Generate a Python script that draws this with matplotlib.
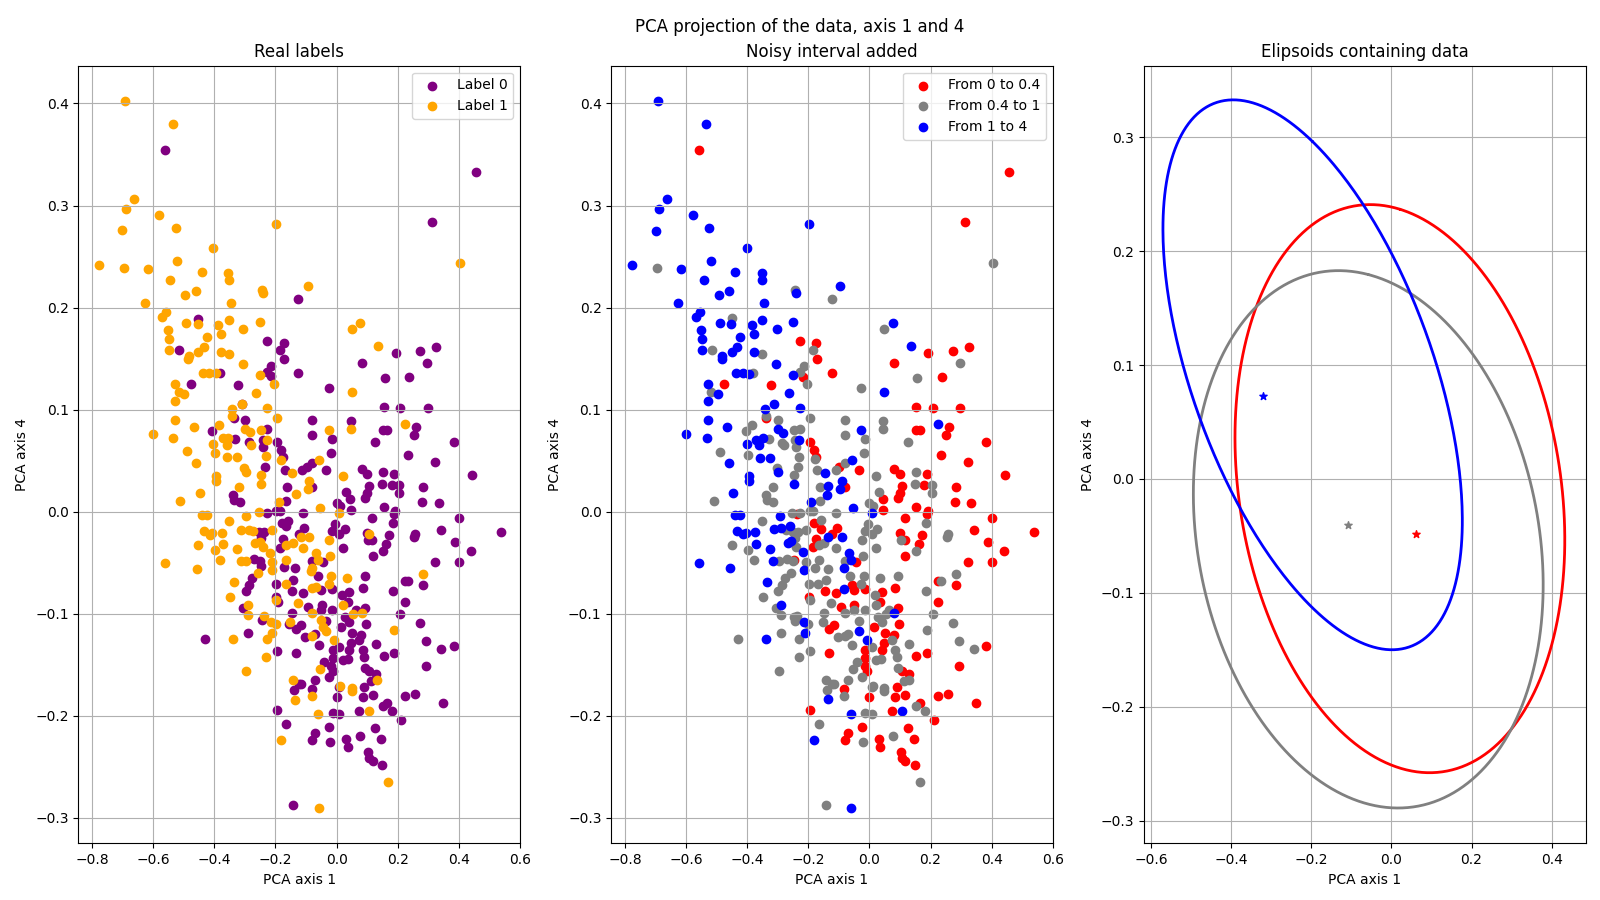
import numpy as np
import matplotlib
matplotlib.use("Agg")
import matplotlib.pyplot as plt

# ---- panel 1: points by real label (x = PCA axis 1, y = PCA axis 4)
label0_pts = [
    (-0.560, 0.354), (-0.125, 0.208), (-0.452, 0.189), (0.456, 0.333), (0.314, 0.284),
    (-0.227, 0.167), (-0.171, 0.165), (-0.184, 0.158), (-0.173, 0.150), (-0.517, 0.158),
    (-0.215, 0.143), (-0.229, 0.137), (-0.215, 0.133), (-0.125, 0.136), (-0.382, 0.136),
    (-0.478, 0.125), (-0.321, 0.124), (-0.309, 0.105), (-0.337, 0.092), (-0.301, 0.090),
    (-0.227, 0.081), (-0.407, 0.079), (-0.334, 0.071), (-0.286, 0.068), (-0.242, 0.070),
    (-0.240, 0.063), (-0.195, 0.068), (-0.183, 0.060), (-0.175, 0.054), (-0.234, 0.044),
    (-0.168, 0.041), (-0.163, 0.024), (-0.339, 0.016), (-0.336, 0.011), (-0.316, 0.009),
    (-0.164, 0.010), (-0.227, -0.001), (-0.197, 0.001), (-0.184, 0.001), (-0.180, -0.011),
    (-0.159, -0.009), (-0.167, -0.014), (-0.253, -0.020), (-0.237, -0.020), (-0.246, -0.026),
    (-0.174, -0.027), (-0.185, -0.036), (-0.271, -0.046), (-0.251, -0.048), (-0.246, -0.053),
    (-0.173, -0.054), (-0.137, -0.055),
    (0.193, 0.155), (0.272, 0.157), (0.325, 0.161), (0.295, 0.146), (0.082, 0.146),
    (0.157, 0.131), (0.236, 0.132), (-0.026, 0.121), (0.154, 0.103), (0.207, 0.102),
    (0.298, 0.102), (-0.079, 0.090), (0.046, 0.089), (0.259, 0.083), (0.252, 0.075),
    (0.151, 0.080), (0.164, 0.080), (-0.079, 0.075), (-0.015, 0.071), (0.126, 0.068),
    (0.383, 0.068), (-0.018, 0.057), (0.233, 0.056), (-0.079, 0.048), (-0.098, 0.044),
    (-0.114, 0.041), (-0.033, 0.041), (0.323, 0.049), (0.082, 0.042), (0.099, 0.037),
    (0.151, 0.039), (0.187, 0.037), (0.443, 0.036), (-0.079, 0.024), (0.148, 0.027),
    (0.180, 0.026), (0.205, 0.026), (0.205, 0.018), (0.105, 0.025), (0.099, 0.018),
    (0.094, 0.013), (0.031, 0.019), (0.045, 0.012), (0.284, 0.024), (0.279, 0.009),
    (0.334, 0.008), (0.000, 0.008), (0.011, 0.006), (0.046, 0.002), (0.154, 0.005),
    (0.192, 0.001), (-0.111, -0.001), (0.115, -0.006), (0.187, -0.002), (0.186, -0.011),
    (0.400, -0.006), (-0.106, -0.016), (-0.122, -0.022), (-0.004, -0.012), (-0.016, -0.019),
    (0.026, -0.017), (0.007, -0.022), (0.099, -0.021), (0.103, -0.028), (0.116, -0.028),
    (0.173, -0.023), (0.258, -0.022), (0.255, -0.025), (0.341, -0.018), (0.538, -0.020),
    (0.020, -0.036), (0.161, -0.032), (0.152, -0.039), (0.389, -0.030), (0.439, -0.039),
    (-0.079, -0.048), (-0.044, -0.049), (0.118, -0.043), (0.323, -0.049), (0.400, -0.049),
    (-0.276, -0.065), (-0.287, -0.072), (-0.297, -0.078), (-0.197, -0.071), (-0.142, -0.067),
    (-0.146, -0.078), (-0.197, -0.084), (-0.191, -0.089), (-0.305, -0.094), (-0.245, -0.106),
    (-0.147, -0.099), (-0.157, -0.110), (-0.132, -0.115), (-0.289, -0.119), (-0.430, -0.125),
    (-0.195, -0.137), (-0.134, -0.139), (-0.139, -0.175), (-0.123, -0.169), (-0.195, -0.194),
    (-0.164, -0.208), (-0.142, -0.287),
    (-0.062, -0.063), (0.092, -0.063), (0.225, -0.068), (0.235, -0.068), (0.282, -0.072),
    (0.085, -0.075), (-0.109, -0.080), (-0.051, -0.077), (-0.015, -0.076), (0.042, -0.079),
    (0.184, -0.078), (0.017, -0.082), (0.225, -0.089), (-0.049, -0.091), (-0.092, -0.093),
    (-0.051, -0.096), (-0.016, -0.096), (0.036, -0.089), (0.063, -0.096), (0.093, -0.094),
    (0.208, -0.100), (-0.035, -0.107), (0.028, -0.103), (0.041, -0.108), (0.096, -0.110),
    (0.272, -0.109), (-0.117, -0.111), (0.014, -0.113), (0.052, -0.119), (0.080, -0.121),
    (-0.103, -0.123), (-0.071, -0.120), (0.074, -0.126), (0.047, -0.129), (0.129, -0.130),
    (-0.057, -0.131), (0.009, -0.133), (0.294, -0.127), (0.341, -0.135), (0.383, -0.132),
    (-0.013, -0.136), (0.041, -0.136), (0.085, -0.136), (0.154, -0.141), (0.187, -0.139),
    (0.091, -0.142), (-0.040, -0.147), (-0.013, -0.143), (0.020, -0.145), (0.039, -0.144),
    (0.294, -0.151), (-0.018, -0.151), (-0.013, -0.156), (0.093, -0.153), (0.107, -0.156),
    (0.129, -0.159), (0.113, -0.166), (-0.024, -0.162), (-0.070, -0.165), (-0.117, -0.169),
    (0.089, -0.172), (0.007, -0.172), (-0.082, -0.174), (0.000, -0.182), (0.085, -0.182),
    (0.118, -0.180), (0.225, -0.181), (0.258, -0.179), (0.348, -0.188), (0.164, -0.188),
    (0.151, -0.190), (0.182, -0.195), (0.210, -0.204), (0.074, -0.195), (-0.013, -0.197),
    (0.007, -0.198), (0.125, -0.212), (-0.024, -0.211), (-0.070, -0.217), (-0.079, -0.224),
    (-0.020, -0.226), (0.031, -0.223), (0.036, -0.231), (0.078, -0.220), (0.146, -0.223),
    (0.102, -0.236), (0.107, -0.241), (0.118, -0.244), (0.148, -0.248),
]

label1_pts = [
    (-0.693, 0.402), (-0.537, 0.380), (-0.664, 0.306), (-0.690, 0.297), (-0.580, 0.291),
    (-0.701, 0.276), (-0.524, 0.278), (-0.198, 0.282), (-0.404, 0.258), (-0.778, 0.242),
    (-0.697, 0.239), (-0.618, 0.238), (-0.521, 0.246), (-0.442, 0.235), (-0.545, 0.227),
    (-0.354, 0.234), (-0.351, 0.227), (-0.495, 0.212), (-0.459, 0.216), (-0.243, 0.217),
    (-0.240, 0.214), (-0.628, 0.204), (-0.345, 0.204), (-0.558, 0.196), (-0.570, 0.191),
    (-0.492, 0.185), (-0.455, 0.184), (-0.387, 0.183), (-0.351, 0.188), (-0.250, 0.186),
    (-0.305, 0.179), (-0.551, 0.178), (-0.095, 0.221), (0.403, 0.244), (0.078, 0.185),
    (0.049, 0.179),
    (-0.547, 0.169), (-0.423, 0.171), (-0.379, 0.174), (-0.547, 0.158), (-0.482, 0.153),
    (-0.485, 0.150), (-0.452, 0.156), (-0.434, 0.161), (-0.379, 0.156), (-0.353, 0.154),
    (-0.305, 0.145), (-0.438, 0.136), (-0.416, 0.136), (-0.396, 0.136), (-0.250, 0.134),
    (-0.204, 0.125), (-0.530, 0.125), (-0.517, 0.117), (-0.498, 0.115), (-0.263, 0.116),
    (-0.530, 0.108), (-0.311, 0.105), (-0.342, 0.101), (-0.342, 0.094), (-0.227, 0.102),
    (-0.195, 0.092), (-0.530, 0.090), (-0.468, 0.083), (-0.384, 0.085), (-0.300, 0.081),
    (-0.283, 0.078), (-0.248, 0.080), (-0.602, 0.076), (-0.534, 0.072), (-0.371, 0.072),
    (-0.354, 0.072), (-0.360, 0.065), (-0.403, 0.066), (-0.229, 0.070), (-0.280, 0.065),
    (-0.182, 0.051), (-0.489, 0.059), (-0.398, 0.057), (-0.359, 0.054), (-0.325, 0.054),
    (-0.230, 0.055), (-0.459, 0.048), (-0.303, 0.043), (-0.298, 0.039), (-0.146, 0.038),
    (-0.395, 0.035), (-0.395, 0.030), (-0.247, 0.036), (-0.247, 0.027), (-0.318, 0.024),
    (-0.446, 0.018), (-0.134, 0.017), (-0.512, 0.010), (-0.190, 0.009), (-0.441, -0.003),
    (-0.424, -0.003), (-0.255, 0.000), (-0.295, -0.004), (-0.353, -0.009), (-0.434, -0.019),
    (-0.415, -0.023), (-0.408, -0.021), (-0.374, -0.021), (-0.313, -0.018), (-0.288, -0.018),
    (-0.273, -0.019), (-0.210, -0.018), (-0.268, -0.031), (-0.251, -0.030), (-0.240, -0.035),
    (-0.165, -0.033), (-0.142, -0.031), (-0.115, -0.025), (-0.452, -0.033), (-0.371, -0.032),
    (-0.398, -0.038), (-0.325, -0.037), (-0.218, -0.041), (-0.561, -0.050), (-0.382, -0.047),
    (-0.314, -0.048), (-0.298, -0.048), (-0.210, -0.049), (-0.210, -0.057), (-0.164, -0.047),
    (-0.458, -0.056),
    (0.137, 0.162), (0.049, 0.117), (0.046, 0.081), (-0.026, 0.080), (0.223, 0.086),
    (-0.056, 0.051), (0.020, 0.035), (-0.090, 0.030), (-0.095, 0.022), (-0.054, 0.004),
    (0.009, -0.001), (0.105, -0.022), (-0.089, -0.025), (-0.024, -0.028), (-0.109, -0.036),
    (-0.066, -0.041), (-0.060, -0.047), (-0.021, -0.043), (-0.082, -0.055),
    (-0.257, -0.060), (-0.335, -0.069), (-0.167, -0.071), (-0.348, -0.084), (-0.197, -0.087),
    (-0.126, -0.090), (-0.289, -0.091), (-0.289, -0.101), (-0.237, -0.102), (-0.213, -0.108),
    (-0.199, -0.110), (-0.151, -0.108), (-0.211, -0.119), (-0.229, -0.125), (-0.339, -0.125),
    (-0.230, -0.142), (-0.297, -0.156), (-0.142, -0.165), (-0.137, -0.185), (-0.182, -0.224),
    (-0.083, -0.058), (-0.019, -0.063), (0.033, -0.065), (0.282, -0.061), (-0.026, -0.071),
    (-0.079, -0.075), (-0.068, -0.074), (0.020, -0.091), (-0.079, -0.099), (0.055, -0.100),
    (0.082, -0.099), (-0.051, -0.106), (-0.046, -0.113), (-0.033, -0.117), (0.187, -0.116),
    (-0.079, -0.122), (-0.008, -0.126), (-0.054, -0.154), (0.131, -0.165), (0.012, -0.171),
    (0.049, -0.173), (0.049, -0.176), (-0.082, -0.181), (0.107, -0.195), (-0.061, -0.198),
    (0.167, -0.265), (-0.059, -0.290),
]

# ---- panel 2: points by noisy interval
low_pts = [  # from 0 to 0.4
    (-0.559, 0.354), (0.456, 0.333), (0.314, 0.284),
    (-0.227, 0.167), (-0.174, 0.165), (-0.171, 0.150), (-0.216, 0.132), (-0.124, 0.136),
    (-0.477, 0.125), (-0.321, 0.124), (-0.339, 0.092), (-0.193, 0.068), (-0.183, 0.060),
    (-0.175, 0.054), (-0.236, -0.002), (-0.180, -0.011), (-0.159, -0.017), (-0.175, -0.027),
    (-0.185, -0.035), (-0.246, -0.047),
    (0.193, 0.155), (0.272, 0.157), (0.325, 0.161), (0.082, 0.146), (0.236, 0.132),
    (0.154, 0.103), (0.207, 0.102), (0.298, 0.102), (0.259, 0.083), (0.252, 0.075),
    (0.151, 0.080), (0.164, 0.080), (0.383, 0.068), (0.233, 0.056), (-0.098, 0.044),
    (-0.033, 0.041), (0.323, 0.049), (0.082, 0.042), (0.099, 0.037), (0.187, 0.037),
    (0.443, 0.036), (-0.079, 0.024), (0.180, 0.026), (0.105, 0.025), (0.099, 0.018),
    (0.094, 0.013), (0.045, 0.012), (0.284, 0.024), (0.279, 0.009), (0.334, 0.008),
    (0.046, 0.002), (0.154, 0.005), (0.192, 0.001), (0.115, -0.006), (0.187, -0.002),
    (0.400, -0.006), (-0.106, -0.016), (-0.122, -0.022), (0.099, -0.021), (0.116, -0.028),
    (0.173, -0.023), (0.341, -0.018), (0.538, -0.020), (0.161, -0.032), (0.389, -0.030),
    (0.439, -0.039), (-0.044, -0.049), (0.115, -0.043), (0.323, -0.049), (0.400, -0.049),
    (-0.145, -0.078), (-0.197, -0.084), (-0.132, -0.115), (-0.132, -0.139), (-0.195, -0.194),
    (-0.057, -0.072), (0.225, -0.068), (0.282, -0.072), (0.085, -0.075), (-0.109, -0.080),
    (-0.051, -0.077), (-0.015, -0.076), (0.042, -0.079), (0.225, -0.089), (-0.049, -0.091),
    (-0.092, -0.093), (0.036, -0.089), (0.093, -0.094), (0.096, -0.110), (-0.117, -0.111),
    (0.014, -0.113), (0.052, -0.119), (0.080, -0.121), (0.047, -0.129), (0.383, -0.132),
    (-0.013, -0.136), (0.041, -0.136), (0.154, -0.141), (0.187, -0.139), (-0.013, -0.143),
    (0.294, -0.151), (-0.013, -0.151), (-0.008, -0.156), (0.107, -0.156), (0.129, -0.159),
    (0.089, -0.172), (-0.082, -0.174), (0.000, -0.182), (0.085, -0.182), (0.118, -0.180),
    (0.225, -0.181), (0.258, -0.179), (0.348, -0.188), (0.164, -0.188), (0.210, -0.204),
    (0.074, -0.195), (0.125, -0.212), (-0.024, -0.211), (-0.070, -0.217), (-0.079, -0.224),
    (0.031, -0.223), (0.036, -0.231), (0.146, -0.223), (0.102, -0.236), (0.107, -0.241),
    (0.118, -0.244), (0.148, -0.248),
]

mid_pts = [  # from 0.4 to 1
    (-0.696, 0.239), (-0.243, 0.217), (-0.124, 0.208), (-0.451, 0.190), (0.403, 0.244),
    (0.049, 0.179),
    (-0.184, 0.158), (-0.516, 0.158), (-0.353, 0.154), (-0.215, 0.143), (-0.228, 0.137),
    (-0.382, 0.136), (-0.203, 0.125), (-0.517, 0.117), (-0.339, 0.094), (-0.195, 0.092),
    (-0.298, 0.090), (-0.383, 0.085), (-0.226, 0.081), (-0.247, 0.080), (-0.405, 0.079),
    (-0.329, 0.071), (-0.286, 0.067), (-0.279, 0.065), (-0.242, 0.070), (-0.239, 0.063),
    (-0.178, 0.052), (-0.488, 0.058), (-0.397, 0.056), (-0.229, 0.054), (-0.233, 0.044),
    (-0.303, 0.043), (-0.170, 0.041), (-0.246, 0.036), (-0.317, 0.024), (-0.161, 0.024),
    (-0.338, 0.016), (-0.336, 0.011), (-0.314, 0.009), (-0.163, 0.010), (-0.510, 0.010),
    (-0.255, -0.001), (-0.226, -0.001), (-0.193, 0.001), (-0.185, 0.001), (-0.353, -0.009),
    (-0.157, -0.008), (-0.273, -0.018), (-0.209, -0.018), (-0.251, -0.020), (-0.235, -0.020),
    (-0.243, -0.026), (-0.240, -0.035), (-0.164, -0.033), (-0.148, -0.031), (-0.451, -0.033),
    (-0.397, -0.038), (-0.379, -0.047), (-0.297, -0.048), (-0.270, -0.046), (-0.251, -0.048),
    (-0.208, -0.049), (-0.164, -0.047), (-0.178, -0.055), (-0.135, -0.056),
    (0.295, 0.146), (0.157, 0.131), (-0.026, 0.121), (-0.079, 0.090), (0.046, 0.089),
    (0.046, 0.081), (-0.079, 0.075), (-0.015, 0.071), (0.126, 0.068), (-0.018, 0.057),
    (-0.079, 0.048), (-0.111, 0.041), (0.151, 0.039), (0.020, 0.035), (0.148, 0.027),
    (0.205, 0.026), (0.205, 0.018), (0.031, 0.019), (0.000, 0.008), (0.011, 0.006),
    (-0.111, -0.001), (0.186, -0.011), (-0.004, -0.012), (-0.016, -0.019), (0.026, -0.017),
    (0.007, -0.022), (0.103, -0.028), (0.258, -0.022), (0.255, -0.025), (-0.024, -0.028),
    (0.020, -0.036), (0.152, -0.039), (-0.109, -0.036), (-0.021, -0.043), (-0.079, -0.048),
    (-0.257, -0.060), (-0.276, -0.065), (-0.287, -0.072), (-0.298, -0.078), (-0.197, -0.071),
    (-0.167, -0.071), (-0.142, -0.067), (-0.349, -0.084), (-0.193, -0.087), (-0.126, -0.090),
    (-0.305, -0.094), (-0.288, -0.101), (-0.246, -0.103), (-0.242, -0.107), (-0.237, -0.102),
    (-0.202, -0.110), (-0.148, -0.099), (-0.153, -0.108), (-0.288, -0.119), (-0.229, -0.125),
    (-0.429, -0.125), (-0.193, -0.137), (-0.229, -0.142), (-0.295, -0.156), (-0.141, -0.165),
    (-0.139, -0.175), (-0.124, -0.169), (-0.164, -0.208), (-0.141, -0.287),
    (-0.019, -0.063), (0.033, -0.065), (0.282, -0.061), (-0.062, -0.063), (0.092, -0.063),
    (-0.026, -0.071), (0.235, -0.068), (0.184, -0.078), (0.017, -0.082), (0.020, -0.091),
    (-0.051, -0.096), (-0.016, -0.096), (-0.079, -0.099), (0.055, -0.100), (0.208, -0.100),
    (0.063, -0.096), (-0.035, -0.107), (0.028, -0.103), (0.041, -0.108), (0.272, -0.109),
    (0.187, -0.116), (-0.103, -0.123), (-0.071, -0.120), (-0.079, -0.122), (0.074, -0.126),
    (0.129, -0.130), (-0.057, -0.131), (0.009, -0.133), (0.294, -0.127), (0.341, -0.135),
    (0.085, -0.136), (0.091, -0.142), (-0.040, -0.147), (0.020, -0.145), (0.039, -0.144),
    (0.093, -0.153), (-0.054, -0.154), (0.113, -0.166), (0.131, -0.165), (-0.024, -0.162),
    (-0.070, -0.165), (-0.117, -0.169), (0.007, -0.172), (0.012, -0.171), (0.049, -0.173),
    (0.049, -0.176), (-0.082, -0.181), (0.151, -0.190), (0.182, -0.195), (-0.013, -0.197),
    (0.007, -0.198), (-0.020, -0.226), (0.078, -0.220), (0.167, -0.265),
]

high_pts = [  # from 1 to 4
    (-0.692, 0.402), (-0.536, 0.380), (-0.663, 0.306), (-0.689, 0.297), (-0.578, 0.291),
    (-0.699, 0.275), (-0.524, 0.278), (-0.197, 0.282), (-0.402, 0.258), (-0.777, 0.242),
    (-0.617, 0.238), (-0.520, 0.246), (-0.441, 0.235), (-0.542, 0.227), (-0.353, 0.234),
    (-0.350, 0.227), (-0.493, 0.212), (-0.458, 0.216), (-0.239, 0.214), (-0.626, 0.204),
    (-0.345, 0.204), (-0.555, 0.196), (-0.568, 0.191), (-0.490, 0.185), (-0.454, 0.184),
    (-0.385, 0.183), (-0.350, 0.188), (-0.250, 0.186), (-0.304, 0.179), (-0.550, 0.178),
    (-0.095, 0.221), (0.078, 0.185),
    (-0.547, 0.169), (-0.422, 0.171), (-0.379, 0.174), (-0.547, 0.158), (-0.482, 0.153),
    (-0.484, 0.150), (-0.451, 0.156), (-0.433, 0.161), (-0.379, 0.156), (-0.305, 0.145),
    (-0.438, 0.136), (-0.414, 0.136), (-0.395, 0.135), (-0.249, 0.134), (-0.529, 0.125),
    (-0.497, 0.115), (-0.262, 0.116), (-0.529, 0.108), (-0.311, 0.105), (-0.341, 0.101),
    (-0.226, 0.102), (-0.529, 0.090), (-0.467, 0.083), (-0.299, 0.081), (-0.282, 0.077),
    (-0.601, 0.076), (-0.533, 0.072), (-0.370, 0.070), (-0.349, 0.072), (-0.360, 0.065),
    (-0.402, 0.066), (-0.229, 0.070), (-0.357, 0.053), (-0.324, 0.053), (-0.459, 0.048),
    (-0.298, 0.039), (-0.145, 0.038), (-0.393, 0.035), (-0.393, 0.030), (-0.247, 0.027),
    (-0.136, 0.025), (-0.445, 0.018), (-0.139, 0.016), (-0.190, 0.009), (-0.441, -0.003),
    (-0.424, -0.003), (-0.293, -0.004), (-0.432, -0.019), (-0.414, -0.022), (-0.404, -0.021),
    (-0.373, -0.020), (-0.311, -0.017), (-0.291, -0.016), (-0.259, -0.014), (-0.267, -0.031),
    (-0.257, -0.029), (-0.137, -0.025), (-0.370, -0.032), (-0.324, -0.037), (-0.217, -0.040),
    (-0.559, -0.050), (-0.314, -0.048), (-0.215, -0.057), (-0.455, -0.055),
    (0.137, 0.162), (0.049, 0.117), (-0.026, 0.080), (0.223, 0.086), (-0.056, 0.051),
    (-0.090, 0.030), (-0.095, 0.022), (-0.054, 0.004), (0.009, -0.001), (-0.089, -0.025),
    (-0.066, -0.041), (-0.060, -0.047), (-0.082, -0.055),
    (-0.334, -0.069), (-0.288, -0.091), (-0.213, -0.108), (-0.211, -0.119), (-0.338, -0.125),
    (-0.136, -0.184), (-0.180, -0.224),
    (-0.083, -0.076), (0.082, -0.099), (-0.033, -0.117), (-0.008, -0.126), (0.107, -0.195),
    (-0.061, -0.198), (-0.059, -0.290),
]

# ---- panel 3: ellipses (centre, half extent in x and y, correlation) and stars
ell_colors = ["red", "gray", "blue"]
ell_cx = [0.021, -0.058, -0.197]
ell_cy = [-0.0085, -0.053, 0.0915]
ell_sx = [0.412, 0.437, 0.374]
ell_sy = [0.2495, 0.236, 0.2415]
ell_rho = [-0.18, -0.17, -0.53]
star_x = [0.061, -0.109, -0.320]
star_y = [-0.048, -0.040, 0.073]


def xy(pts):
    a = np.array(pts)
    return a[:, 0], a[:, 1]


fig, axes = plt.subplots(1, 3, figsize=(16, 9), dpi=100)
fig.subplots_adjust(left=0.049, right=0.991, top=0.927, bottom=0.063, wspace=0.207)
fig.suptitle("PCA projection of the data, axis 1 and 4")

ax = axes[0]
x, y = xy(label0_pts)
ax.scatter(x, y, color="purple", label="Label 0")
x, y = xy(label1_pts)
ax.scatter(x, y, color="orange", label="Label 1")
ax.set_title("Real labels")
ax.legend(loc="upper right")

ax = axes[1]
for pts, c, lab in [(low_pts, "red", "From 0 to 0.4"),
                    (mid_pts, "gray", "From 0.4 to 1"),
                    (high_pts, "blue", "From 1 to 4")]:
    x, y = xy(pts)
    ax.scatter(x, y, color=c, label=lab)
ax.set_title("Noisy interval added")
ax.legend(loc="upper right")

for ax in axes[:2]:
    ax.set_xlim(-0.845, 0.6)
    ax.set_ylim(-0.325, 0.437)

ax = axes[2]
# start the curve at the top so the seam is hidden
t = np.linspace(0.5 * np.pi, 2.5 * np.pi, 400)
for i, c in enumerate(ell_colors):
    ex = ell_cx[i] + ell_sx[i] * np.cos(t)
    ey = ell_cy[i] + ell_sy[i] * (ell_rho[i] * np.cos(t) + np.sqrt(1 - ell_rho[i] ** 2) * np.sin(t))
    ax.plot(ex, ey, color=c, linewidth=2, solid_capstyle="round", solid_joinstyle="round")
    ax.scatter([star_x[i]], [star_y[i]], marker="*", color=c, s=30)
ax.set_xlim(-0.618, 0.485)
ax.set_ylim(-0.320, 0.363)
ax.set_title("Elipsoids containing data")

for ax in axes:
    ax.set_xlabel("PCA axis 1")
    ax.set_ylabel("PCA axis 4")
    ax.grid(True)

fig.savefig("out.png")
